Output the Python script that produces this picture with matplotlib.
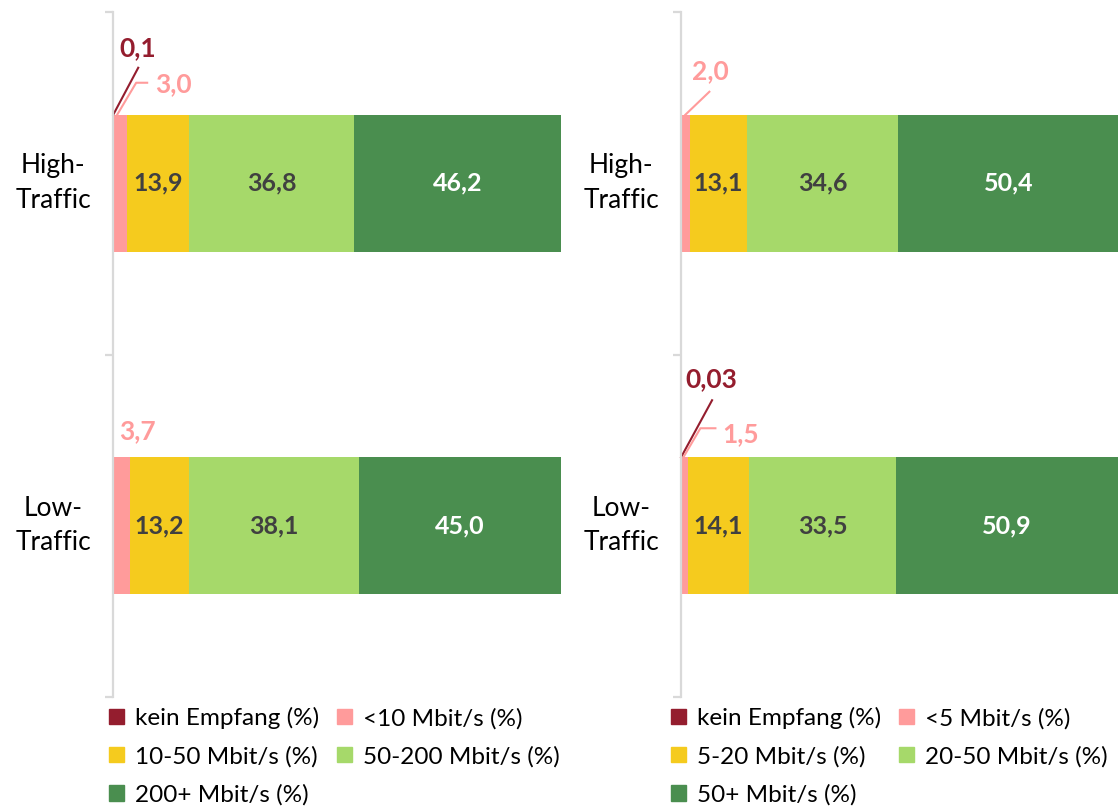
import numpy as np
import matplotlib.pyplot as plt
from matplotlib.patches import Patch

plt.rcParams['font.family'] = ['Lato', 'DejaVu Sans']

categories = ['High-\nTraffic', 'Low-\nTraffic']

# left chart: fixed network bands
left_names = ['kein Empfang (%)', '<10 Mbit/s (%)', '10-50 Mbit/s (%)',
              '50-200 Mbit/s (%)', '200+ Mbit/s (%)']
left_vals = np.array([[0.1, 3.0, 13.9, 36.8, 46.2],
                      [0.0, 3.7, 13.2, 38.1, 45.0]])

# right chart: mobile bands
right_names = ['kein Empfang (%)', '<5 Mbit/s (%)', '5-20 Mbit/s (%)',
               '20-50 Mbit/s (%)', '50+ Mbit/s (%)']
right_vals = np.array([[0.0, 2.0, 13.1, 34.6, 50.4],
                       [0.03, 1.5, 14.1, 33.5, 50.9]])

colors = ['#941D2E', '#FF9B9B', '#F5CB1E', '#A6D96A', '#4A8E4F']
text_cols = [None, None, '#404040', '#404040', 'white']

W, H = 1118, 809
fig = plt.figure(figsize=(W / 100, H / 100), dpi=100)


def px_axes(x0, x1, ytop, ybot):
    return fig.add_axes([x0 / W, 1 - ybot / H, (x1 - x0) / W, (ybot - ytop) / H])


def fmt(v):
    return ('%.2f' % v if v < 0.1 else '%.1f' % v).replace('.', ',')


def draw(ax, vals, callouts):
    ypos = [1, 0]
    for i, row in enumerate(vals):
        left = 0
        for j, v in enumerate(row):
            ax.barh(ypos[i], v, left=left, height=0.4, color=colors[j])
            if text_cols[j]:
                ax.text(left + v / 2, ypos[i], fmt(v), ha='center', va='center',
                        color=text_cols[j], fontsize=18, fontweight='bold')
            left += v
    ax.set_xlim(0, 100)
    ax.set_ylim(-0.5, 1.5)
    for s in ['top', 'right', 'bottom']:
        ax.spines[s].set_visible(False)
    ax.spines['left'].set_color('#D9D9D9')
    ax.spines['left'].set_linewidth(1.6)
    ax.set_xticks([])
    ax.set_yticks([-0.5, 0.5, 1.5])
    ax.set_yticklabels([])
    ax.tick_params(axis='y', length=6, width=1.6, color='#D9D9D9')

    # pixel scale for the leader lines
    bb = ax.get_position()
    sx = bb.width * W / 100
    sy = bb.height * H / 2
    for (i, j, line, tx, ty, ha) in callouts:
        row = vals[i]
        ax0 = row[:j].sum() + row[j] / 2
        ay0 = ypos[i] + 0.2
        if line:
            lx = [ax0 + dx / sx for dx, dy in line]
            ly = [ay0 + dy / sy for dx, dy in line]
            ax.plot(lx, ly, color=colors[j], lw=1.5, clip_on=False)
        ax.text(ax0 + tx / sx, ay0 + ty / sy, fmt(row[j]), ha=ha, va='center',
                color=colors[j], fontsize=19, fontweight='bold', clip_on=False)


axL = px_axes(113, 561, 12, 697)
axR = px_axes(681, 1118, 12, 697)

draw(axL, left_vals, [
    (0, 0, [(0, 0), (25, 47)], 24, 67, 'center'),
    (0, 1, [(-3, 0), (16, 32), (27, 32)], 35, 31, 'left'),
    (1, 1, None, 16, 26, 'center'),
])
draw(axR, right_vals, [
    (0, 1, [(0, 0), (24, 23)], 25, 44, 'center'),
    (1, 0, [(0, 0), (31, 57)], 30, 78, 'center'),
    (1, 1, [(-1, 0), (16, 29), (31, 29)], 38, 23, 'left'),
])

# category labels
for cx in [53, 621]:
    for k, cat in enumerate(categories):
        cy = 183 + k * 343
        fig.text(cx / W, 1 - cy / H, cat, ha='center', va='center',
                 fontsize=19, color='#000000', linespacing=1.45)


def legend(names, x):
    hs = [Patch(color=c, label=n) for c, n in zip(colors, names)]
    order = [0, 2, 4, 1, 3]
    fig.legend([hs[o] for o in order], [names[o] for o in order], ncol=2,
               loc='upper left', bbox_to_anchor=(x / W, 1 - 707 / H),
               frameon=False, fontsize=17.5, handlelength=0.62, handleheight=0.62,
               handletextpad=0.45, columnspacing=0.75, labelspacing=0.68,
               borderpad=0, borderaxespad=0)


legend(left_names, 109)
legend(right_names, 671)

fig.savefig('out.png', dpi=100)
